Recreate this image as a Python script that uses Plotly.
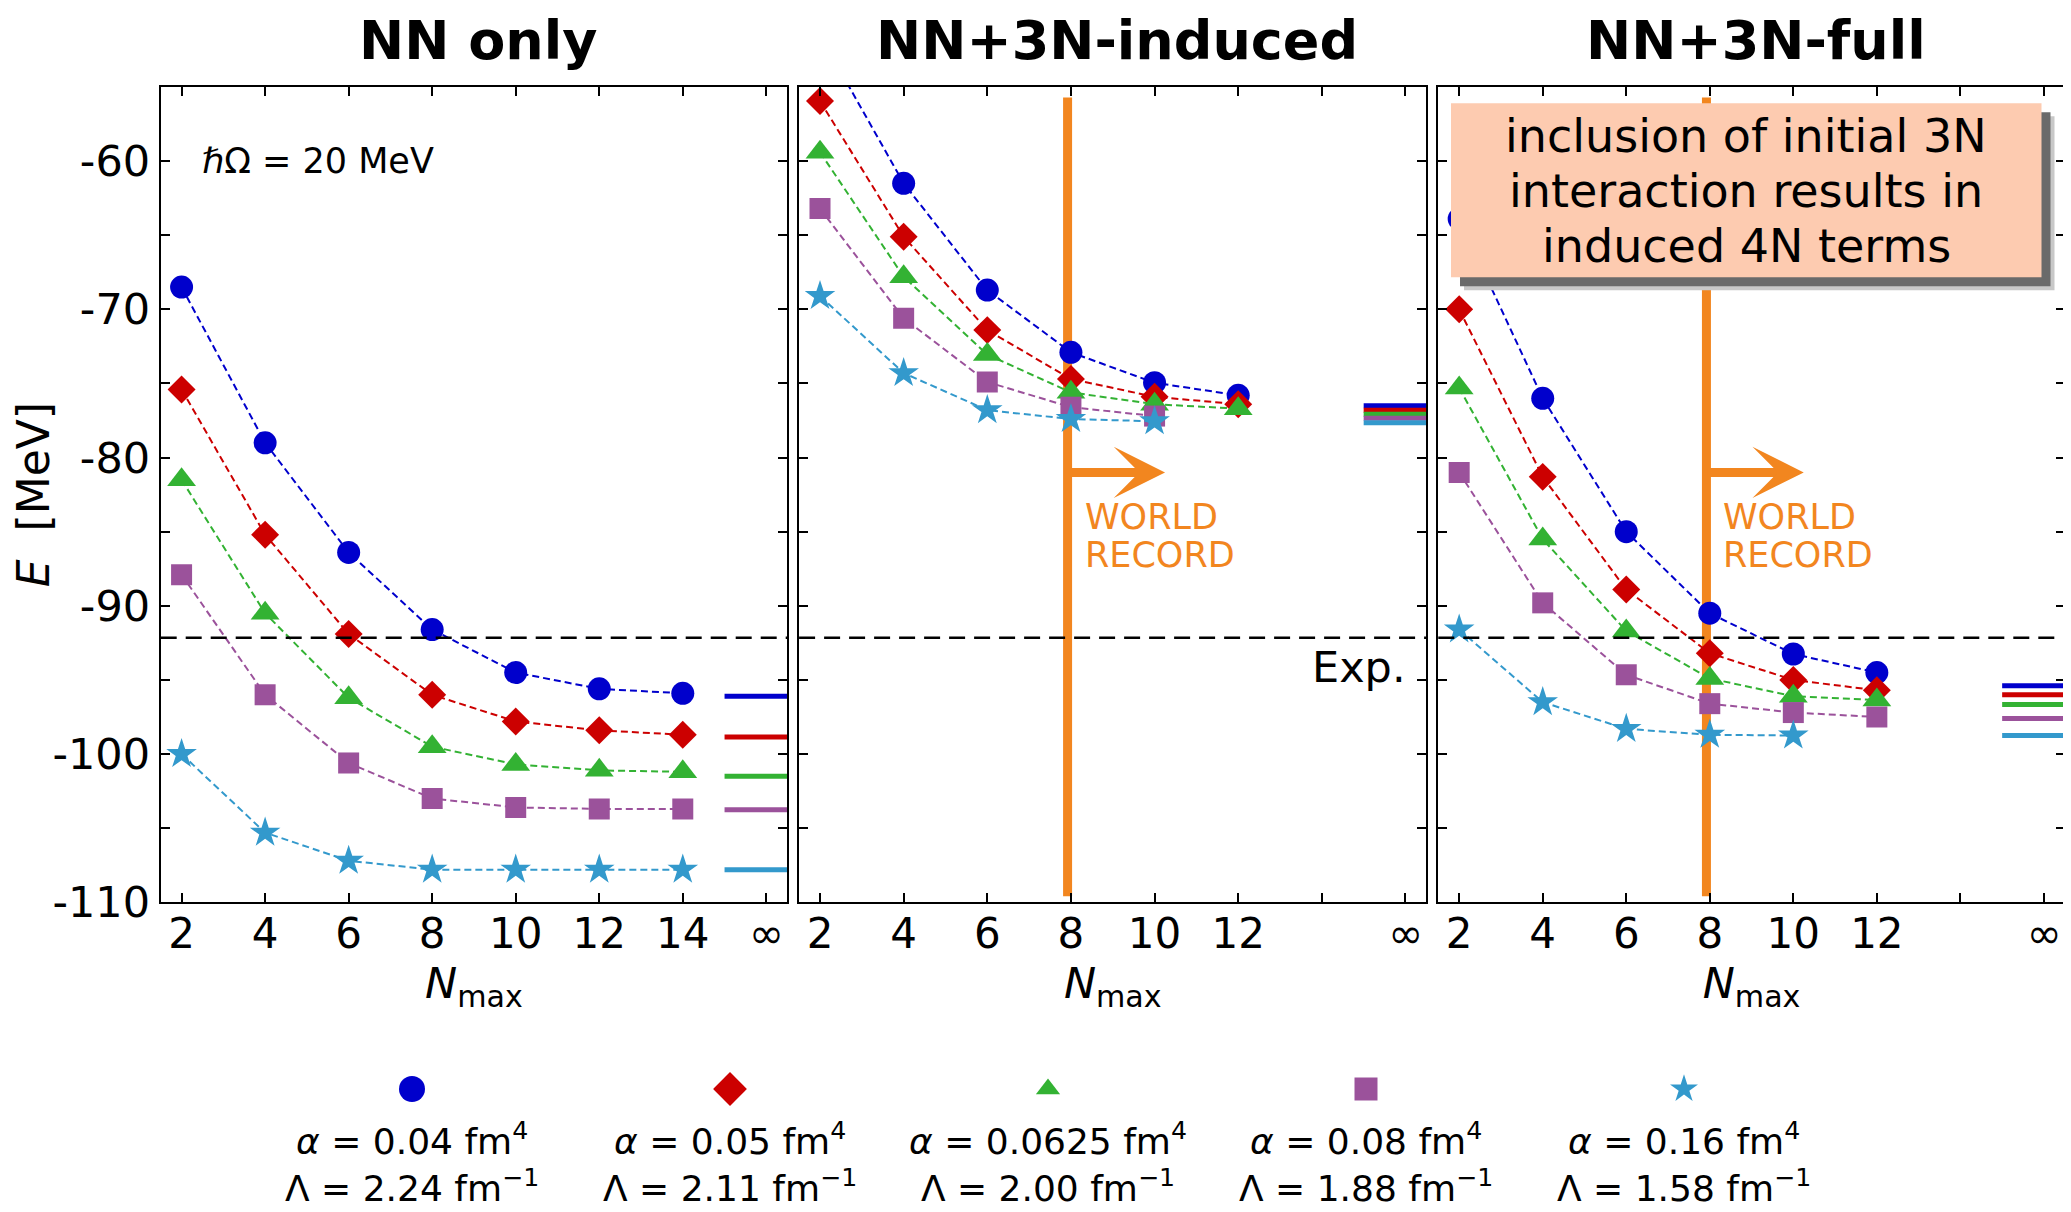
import plotly.graph_objects as go

# ---------------- data ----------------
panel_titles = ["NN only", "NN+3N-induced", "NN+3N-full"]

series_colors = ["#0000cc", "#cc0000", "#33b233", "#9b529b", "#3399cc"]
series_symbols = ["circle", "diamond", "triangle-up", "square", "star"]
legend_alpha = ["0.04", "0.05", "0.0625", "0.08", "0.16"]
legend_lambda = ["2.24", "2.11", "2.00", "1.88", "1.58"]

# NN only
nn_nmax = [[2, 4, 6, 8, 10, 12, 14]] * 5
nn_energy = [
    [-68.5, -79.0, -86.4, -91.6, -94.5, -95.6, -95.9],
    [-75.4, -85.2, -91.9, -96.0, -97.8, -98.4, -98.7],
    [-81.5, -90.5, -96.2, -99.5, -100.7, -101.1, -101.2],
    [-87.9, -96.0, -100.6, -103.0, -103.6, -103.7, -103.7],
    [-100.0, -105.3, -107.2, -107.8, -107.8, -107.8, -107.8],
]
nn_inf = [-96.1, -98.85, -101.5, -103.75, -107.8]

# NN+3N-induced
ind_nmax = [[2, 4, 6, 8, 10, 12], [2, 4, 6, 8, 10, 12], [2, 4, 6, 8, 10, 12],
            [2, 4, 6, 8, 10], [2, 4, 6, 8, 10]]
ind_energy = [
    [-51.5, -61.5, -68.7, -72.9, -74.95, -75.8],
    [-55.95, -65.1, -71.4, -74.7, -75.9, -76.4],
    [-59.4, -67.8, -73.05, -75.6, -76.4, -76.7],
    [-63.2, -70.6, -74.9, -76.6, -77.2],
    [-69.1, -74.3, -76.8, -77.4, -77.55],
]
ind_inf = [-76.5, -76.8, -77.07, -77.35, -77.65]

# NN+3N-full
full_nmax = [[2, 4, 6, 8, 10, 12], [2, 4, 6, 8, 10, 12], [2, 4, 6, 8, 10, 12],
             [2, 4, 6, 8, 10, 12], [2, 4, 6, 8, 10]]
full_energy = [
    [-63.9, -76.0, -85.0, -90.5, -93.25, -94.5],
    [-70.0, -81.3, -88.9, -93.2, -95.0, -95.7],
    [-75.3, -85.5, -91.7, -94.9, -96.1, -96.35],
    [-81.0, -89.8, -94.65, -96.6, -97.2, -97.5],
    [-91.6, -96.5, -98.3, -98.7, -98.75],
]
full_inf = [-95.4, -96.0, -96.65, -97.6, -98.75]

exp_energy = -92.16
record_nmax = 7.92
inf_position = 16

x_tickvals = [2, 4, 6, 8, 10, 12, 14, 16]
x_ticktext_nn = ["2", "4", "6", "8", "10", "12", "14", "∞"]
x_ticktext_3n = ["2", "4", "6", "8", "10", "12", "", "∞"]
y_tickvals = [-110, -105, -100, -95, -90, -85, -80, -75, -70, -65, -60, -55]
y_ticktext = ["-110", "", "-100", "", "-90", "", "-80", "", "-70", "", "-60", ""]

box_lines = ["inclusion of initial 3N", "interaction results in", "induced 4N terms"]

# ---------------- style / geometry ----------------
FONT = "DejaVu Sans"
OFF = 8                      # page body margin of the html page
W, H = 2071 - OFF, 1212 - OFF
ORANGE = "#f2861f"
plot_sizes = [23, 21.5, 25, 21, 23]
legend_sizes = [26, 26, 21, 23, 21]


def px(x):   # page pixel -> paper x
    return (x - OFF) / W


def py(y):   # page pixel -> paper y
    return 1 - (y - OFF) / H


x_domains = [[px(160.7), px(787.2)], [px(799.1), px(1426.4)], [px(1438.3), px(2064.8)]]
y_domain = [py(902.3), py(87.0)]

fig = go.Figure()

panels = [(nn_nmax, nn_energy, nn_inf), (ind_nmax, ind_energy, ind_inf), (full_nmax, full_energy, full_inf)]
for p, (nx, ny, ninf) in enumerate(panels):
    xa = "x" if p == 0 else f"x{p+1}"
    ya = "y" if p == 0 else f"y{p+1}"
    for s in range(5):
        fig.add_trace(go.Scatter(
            x=nx[s], y=ny[s], xaxis=xa, yaxis=ya, mode="lines+markers",
            line=dict(color=series_colors[s], width=2, dash="7px,4px"),
            marker=dict(symbol=series_symbols[s], size=plot_sizes[s], color=series_colors[s],
                        opacity=1, line=dict(width=0)),
            showlegend=False, hoverinfo="skip"))
    for s in range(5):
        fig.add_trace(go.Scatter(
            x=[inf_position - 1, inf_position + 0.5], y=[ninf[s], ninf[s]], xaxis=xa, yaxis=ya,
            mode="lines", line=dict(color=series_colors[s], width=5),
            showlegend=False, hoverinfo="skip"))

# legend row: one marker per series on a hidden axis (slot = series index)
legend_slots = list(range(len(legend_alpha)))
LEG_MARK_Y = (H - (1089 - OFF)) / 301
LEG_TEXT_Y = (H - (1162 - OFF)) / 301
fig.add_trace(go.Scatter(x=legend_slots, y=[LEG_MARK_Y] * 5, xaxis="x4", yaxis="y4", mode="markers",
                         marker=dict(symbol=series_symbols, size=legend_sizes, color=series_colors,
                                     opacity=1, line=dict(width=0)),
                         showlegend=False, hoverinfo="skip"))

axis_common = dict(showline=True, linecolor="black", linewidth=2, mirror="allticks",
                   ticks="inside", ticklen=9, tickwidth=2, tickcolor="black",
                   showgrid=False, zeroline=False, automargin=False,
                   tickfont=dict(family=FONT, size=42, color="black"))

layout = dict(width=W, height=H, margin=dict(l=0, r=0, t=0, b=0, pad=0),
              paper_bgcolor="white", plot_bgcolor="white",
              font=dict(family=FONT, color="black"), showlegend=False)

for p in range(3):
    xk = "xaxis" if p == 0 else f"xaxis{p+1}"
    yk = "yaxis" if p == 0 else f"yaxis{p+1}"
    layout[xk] = dict(axis_common, domain=x_domains[p], range=[1.5, 16.5],
                      anchor="y" if p == 0 else f"y{p+1}",
                      tickmode="array", tickvals=x_tickvals,
                      ticktext=x_ticktext_nn if p == 0 else x_ticktext_3n,
                      ticklabelstandoff=-7,
                      title=dict(text="<i>N</i><sub>max</sub>", font=dict(family=FONT, size=43), standoff=3))
    layout[yk] = dict(axis_common, domain=y_domain, range=[-110, -55],
                      anchor="x" if p == 0 else f"x{p+1}",
                      tickmode="array", tickvals=y_tickvals, ticktext=y_ticktext,
                      showticklabels=(p == 0))
layout["yaxis"]["title"] = dict(text="<i>E</i>\u00a0\u00a0[MeV]", font=dict(family=FONT, size=44), standoff=6)
layout["yaxis"]["tickfont"] = dict(family=FONT, size=43, color="black")
slot_px = 318
layout["xaxis4"] = dict(domain=[0, 1], anchor="y4", visible=False,
                        range=[-(412 - OFF) / slot_px, 4 + (2071 - 1684) / slot_px])
layout["yaxis4"] = dict(domain=[0, 301 / H], anchor="x4", visible=False, range=[0, 1])

fig.update_layout(**layout)

shapes = []
for p in range(3):
    xr = "x" if p == 0 else f"x{p+1}"
    yr = "y" if p == 0 else f"y{p+1}"
    if p > 0:
        shapes.append(dict(type="line", xref=xr, yref=yr, x0=record_nmax, x1=record_nmax,
                           y0=-109.6, y1=-55.7, line=dict(color=ORANGE, width=9), layer="below"))
    shapes.append(dict(type="line", xref=f"{xr} domain", yref=yr, x0=0, x1=1, y0=exp_energy, y1=exp_energy,
                       line=dict(color="black", width=2.5, dash="16px,9px"), layer="above"))

# text box with drop shadow (page pixel geometry)
BX0, BX1, BY0, BY1 = 1451, 2041.5, 103.3, 277.3
for off, col in ((13, "#c8c8c8"), (9, "#6a6a6a")):
    shapes.append(dict(type="rect", xref="paper", yref="paper", x0=px(BX0 + off), x1=px(BX1 + off),
                       y0=py(BY1 + off), y1=py(BY0 + off), fillcolor=col, line=dict(width=0), layer="above"))
shapes.append(dict(type="rect", xref="paper", yref="paper", x0=px(BX0), x1=px(BX1),
                   y0=py(BY1), y1=py(BY0), fillcolor="#fdcbb0", line=dict(width=0), layer="above"))
fig.update_layout(shapes=shapes)

ann = []
centers = [(x_domains[p][0] + x_domains[p][1]) / 2 + 4 / W for p in range(3)]
for p in range(3):
    ann.append(dict(text=f"<b>{panel_titles[p]}</b>", xref="paper", yref="paper", x=centers[p], y=py(41),
                    xanchor="center", yanchor="middle", showarrow=False,
                    font=dict(family=FONT, size=54, color="black")))
ann.append(dict(text="<i>ℏ</i>Ω = 20 MeV", xref="x", yref="y", x=2.45, y=-60, xanchor="left", yanchor="middle",
                showarrow=False, font=dict(family=FONT, size=35, color="black")))
ann.append(dict(text="Exp.", xref="x2", yref="y2", x=16.05, y=-94.1, xanchor="right", yanchor="middle",
                showarrow=False, font=dict(family=FONT, size=43, color="black")))
for p in (1, 2):
    xr, yr = f"x{p+1}", f"y{p+1}"
    ann.append(dict(text="", xref=xr, yref=yr, axref=xr, ayref=yr, x=10.25, y=-81.0, ax=record_nmax, ay=-81.0,
                    showarrow=True, arrowhead=3, arrowsize=0.95, arrowwidth=9, arrowcolor=ORANGE))
    ann.append(dict(text="WORLD", xref=xr, yref=yr, x=8.28, y=-84.0, xanchor="left", yanchor="middle",
                    showarrow=False, font=dict(family=FONT, size=35, color=ORANGE)))
    ann.append(dict(text="RECORD", xref=xr, yref=yr, x=8.28, y=-86.55, xanchor="left", yanchor="middle",
                    showarrow=False, font=dict(family=FONT, size=35, color=ORANGE)))
for k, (line_text, yc) in enumerate(zip(box_lines, (135.5, 190.8, 246.0))):
    ann.append(dict(text=line_text, xref="paper", yref="paper", x=px((BX0 + BX1) / 2), y=py(yc),
                    xanchor="center", yanchor="middle", showarrow=False,
                    font=dict(family=FONT, size=46, color="black")))
for i in range(5):
    ann.append(dict(text=f"<i>α</i> = {legend_alpha[i]} fm<sup>4</sup><br>Λ = {legend_lambda[i]} fm<sup>−1</sup>",
                    xref="x4", yref="y4", x=legend_slots[i], y=LEG_TEXT_Y, xanchor="center", yanchor="middle",
                    showarrow=False, borderpad=0, font=dict(family=FONT, size=36, color="black")))
fig.update_layout(annotations=ann)

fig.write_html("out.html")
